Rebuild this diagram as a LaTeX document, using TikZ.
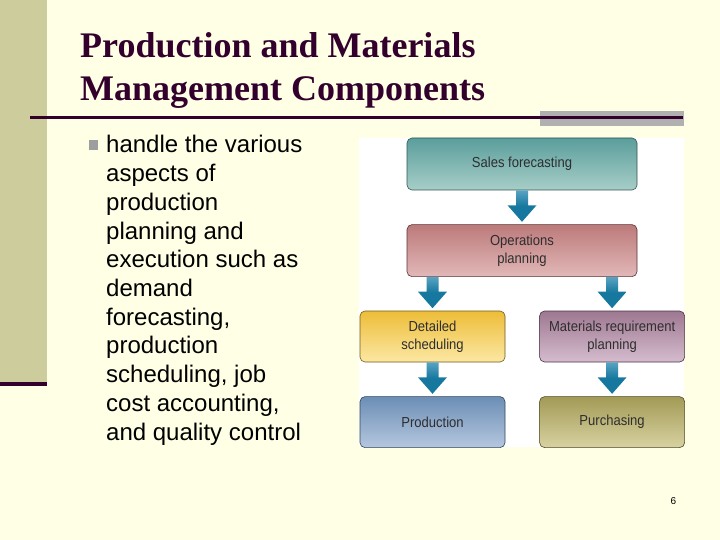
\documentclass[tikz,border=0pt]{standalone}
\usepackage{fontspec}
\setmainfont{Liberation Sans}
\newfontfamily\titlefont{Liberation Serif}
\newfontfamily\boxfont[FakeStretch=0.9]{Liberation Sans}
\usepackage{tikz}
\usetikzlibrary{positioning,calc}

\definecolor{slidebg}{HTML}{FFFFE5}
\definecolor{sidebar}{HTML}{CCCC9C}
\definecolor{titlecol}{HTML}{33002E}
\definecolor{rulegray}{HTML}{B0B0B0}
\definecolor{arrowcol}{HTML}{16789F}
\definecolor{arrowtop}{HTML}{5AA3C2}
\definecolor{boxtext}{HTML}{2E2E2E}
\definecolor{salestop}{HTML}{5A9E9C}
\definecolor{salesbot}{HTML}{A8CEC8}
\definecolor{salesline}{HTML}{2F5553}
\definecolor{opstop}{HTML}{BC7A7A}
\definecolor{opsbot}{HTML}{E2B8B8}
\definecolor{opsline}{HTML}{5A3434}
\definecolor{dettop}{HTML}{EDBD38}
\definecolor{detbot}{HTML}{FCE8A4}
\definecolor{detline}{HTML}{6E5A18}
\definecolor{mrptop}{HTML}{9E7891}
\definecolor{mrpbot}{HTML}{D5BCCE}
\definecolor{mrpline}{HTML}{4A3444}
\definecolor{prodtop}{HTML}{6C8EB5}
\definecolor{prodbot}{HTML}{B5C7DF}
\definecolor{prodline}{HTML}{34465C}
\definecolor{purchtop}{HTML}{A29A55}
\definecolor{purchbot}{HTML}{D8D2A2}
\definecolor{purchline}{HTML}{4E4A26}

\tikzset{
  stage/.style={rounded corners=5pt, line width=0.6pt, align=center,
    text=boxtext, font=\boxfont\fontsize{14.5}{17.5}\selectfont,
    inner sep=0pt, top color=#1top, bottom color=#1bot, draw=#1line},
  widestage/.style={stage=#1, minimum width=230pt, minimum height=52pt},
  smallstage/.style={stage=#1, minimum width=145pt, minimum height=51pt},
  body/.style={anchor=base west, inner sep=0pt, font=\fontsize{24}{28.8}\selectfont}
}

% fat arrow from the bottom of #1 down to the top of #2
\newcommand{\blockarrow}[2]{
  \path[top color=arrowtop, bottom color=arrowcol, middle color=arrowcol]
    let \p1=(#1.south -| #2.north), \p2=(#2.north) in
    (\x1-6pt,\y1) -- (\x1+6pt,\y1) -- (\x1+6pt,\y2+19pt) -- (\x1+14.5pt,\y2+19pt)
    -- (\x1,\y2+2.5pt) -- (\x1-14.5pt,\y2+19pt) -- (\x1-6pt,\y2+19pt) -- cycle;
}

\begin{document}
\begin{tikzpicture}[x=1pt,y=-1pt,line cap=round,line join=round]
	\useasboundingbox (0,0) rectangle (720,540);
	\fill[slidebg] (0,0) rectangle (720,540);
	\fill[sidebar] (0,0) rectangle (47,382);
	\fill[titlecol] (0,382) rectangle (47,386);
	% title
	\node[anchor=base west, inner sep=0pt, text=titlecol, font=\titlefont\bfseries\fontsize{36}{43}\selectfont] (title1) at (80,58) {Production and Materials};
	\node[anchor=base west, inner sep=0pt, text=titlecol, font=\titlefont\bfseries\fontsize{36}{43}\selectfont] (title2) at (80,101) {Management Components};
	\fill[rulegray] (540,111) rectangle (684,126);
	\draw[titlecol, line width=3.2pt, line cap=butt] (30,117.5) -- (683,117.5);
	% bullet text
	\fill[rulegray!90!black] (88.5,140.5) rectangle (98,150);
	\foreach \t [count=\i] in {handle the various, aspects of, production, planning and, execution such as, demand, {forecasting,}, production, {scheduling, job}, {cost accounting,}, and quality control}
	\node[body] (line\i) at (106,{153+28.7*(\i-1)}) {\t};
	% figure
	\fill[white] (359,138) rectangle (684,447);
	\node[widestage=sales] (sales) at (522,164) {Sales forecasting};
	\node[widestage=ops, below=34pt of sales] (ops) {Operations\\planning};
	\node[smallstage=det] (det) at (432.5,336.5) {Detailed\\scheduling};
	\node[smallstage=mrp, right=34pt of det] (mrp) {Materials requirement\\planning};
	\node[smallstage=prod, below=34pt of det] (prod) {Production};
	\node[smallstage=purch, below=34pt of mrp] (purch) {Purchasing};
	\blockarrow{sales}{ops}
	\blockarrow{ops}{det}
	\blockarrow{ops}{mrp}
	\blockarrow{det}{prod}
	\blockarrow{mrp}{purch}
	% page number
	\node[inner sep=0pt, font=\fontsize{10}{12}\selectfont] (pagenum) at (673.5,501) {6};
\end{tikzpicture}
\end{document}
